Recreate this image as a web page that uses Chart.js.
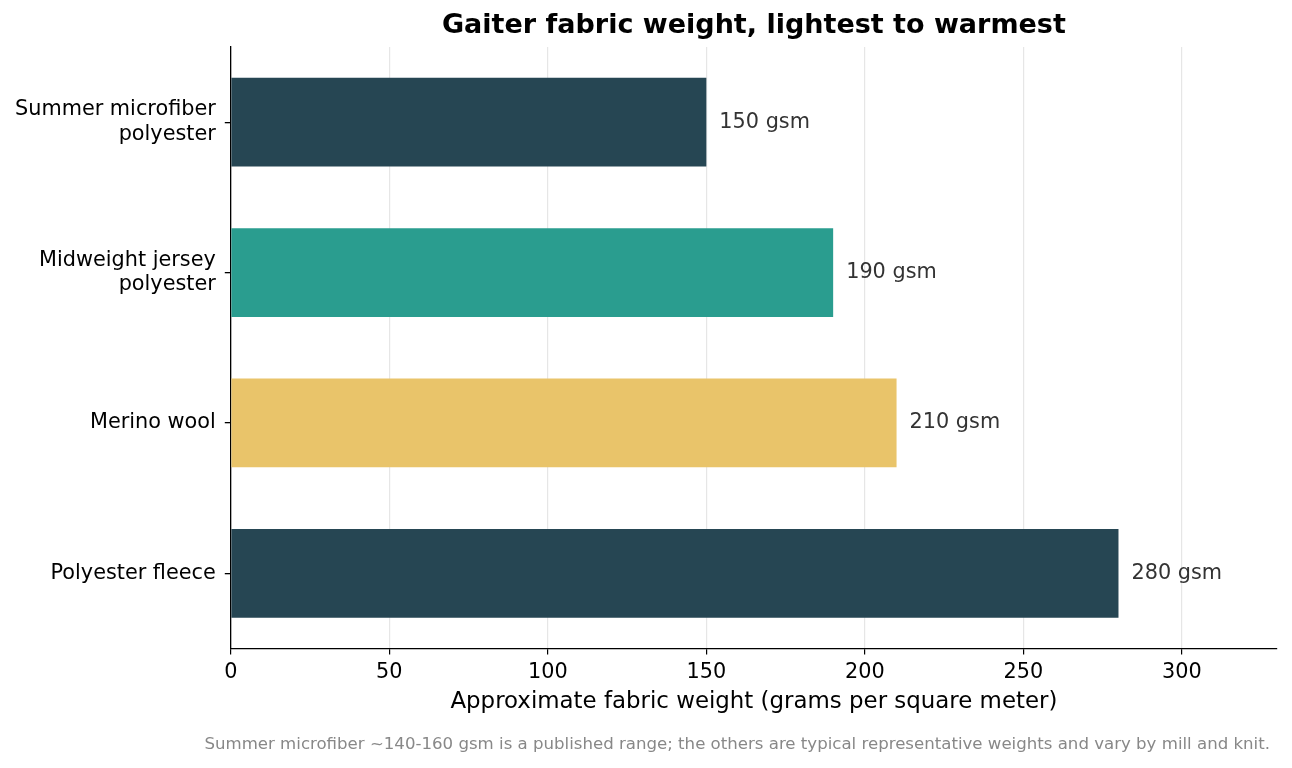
<!DOCTYPE html>
<html>
<head>
<meta charset="utf-8">
<script src="https://cdn.jsdelivr.net/npm/chart.js@4"></script>
<style>
  html, body { margin: 0; padding: 0; background: #fff; }
  #wrap { width: 1292px; height: 768px; position: relative; }
</style>
</head>
<body>
<div id="wrap"><canvas id="c" width="1292" height="768"></canvas></div>
<script>
const categories = [["Summer microfiber", "polyester"], ["Midweight jersey", "polyester"], ["Merino wool"], ["Polyester fleece"]];
const weights = [150, 190, 210, 280];
const barColors = ["#264653", "#2a9d8f", "#e9c46a", "#264653"];
const valueLabels = ["150 gsm", "190 gsm", "210 gsm", "280 gsm"];
const xTicks = [0, 50, 100, 150, 200, 250, 300];
const titleText = "Gaiter fabric weight, lightest to warmest";
const xTitle = "Approximate fabric weight (grams per square meter)";
const footnote = "Summer microfiber ~140-160 gsm is a published range; the others are typical representative weights and vary by mill and knit.";

const FONT = "'DejaVu Sans', sans-serif";

const valueLabelPlugin = {
  id: 'valueLabels',
  afterDatasetsDraw(chart) {
    const ctx = chart.ctx;
    const meta = chart.getDatasetMeta(0);
    ctx.save();
    ctx.font = "20.8px " + FONT;
    ctx.fillStyle = "#333333";
    ctx.textAlign = "left";
    ctx.textBaseline = "middle";
    meta.data.forEach((bar, i) => {
      ctx.fillText(valueLabels[i], bar.x + 13, bar.y);
    });
    ctx.restore();
  }
};

const footnotePlugin = {
  id: 'footnote',
  afterDraw(chart) {
    const ctx = chart.ctx;
    ctx.save();
    ctx.font = "16.6px " + FONT;
    ctx.fillStyle = "#888888";
    ctx.textAlign = "right";
    ctx.textBaseline = "middle";
    ctx.fillText(footnote, chart.width - 22, chart.height - 23.5);
    ctx.restore();
  }
};

new Chart(document.getElementById('c'), {
  type: 'bar',
  data: {
    labels: categories,
    datasets: [{
      data: weights,
      backgroundColor: barColors,
      borderWidth: 0,
      barPercentage: 0.59,
      categoryPercentage: 1.0
    }]
  },
  options: {
    indexAxis: 'y',
    responsive: false,
    animation: false,
    devicePixelRatio: 1,
    layout: { padding: { left: 6, right: 15, top: 0, bottom: 49 } },
    plugins: {
      legend: { display: false },
      tooltip: { enabled: false },
      title: {
        display: true,
        text: titleText,
        fullSize: false,
        color: "#000",
        font: { family: FONT, size: 27, weight: 'bold' },
        padding: { top: 10, bottom: 4.6 }
      }
    },
    scales: {
      x: {
        type: 'linear',
        min: 0,
        max: 330,
        afterBuildTicks(scale) { scale.ticks = xTicks.map(v => ({ value: v })); },
        ticks: { color: "#000", font: { family: FONT, size: 20.8 }, padding: 6 },
        grid: { color: "#e6e6e6", lineWidth: 1.2, tickColor: "#000", tickLength: 6, drawTicks: true },
        border: { color: "#000", width: 1.3 },
        title: { display: true, text: xTitle, color: "#000", font: { family: FONT, size: 22.9 }, padding: { top: -3, bottom: 3 } }
      },
      y: {
        ticks: { color: "#000", font: { family: FONT, size: 20.8 }, padding: 9 },
        grid: { drawOnChartArea: false, offset: false, tickColor: "#000", tickLength: 6, lineWidth: 1.3 },
        border: { color: "#000", width: 1.3 }
      }
    }
  },
  plugins: [valueLabelPlugin, footnotePlugin]
});
</script>
</body>
</html>
